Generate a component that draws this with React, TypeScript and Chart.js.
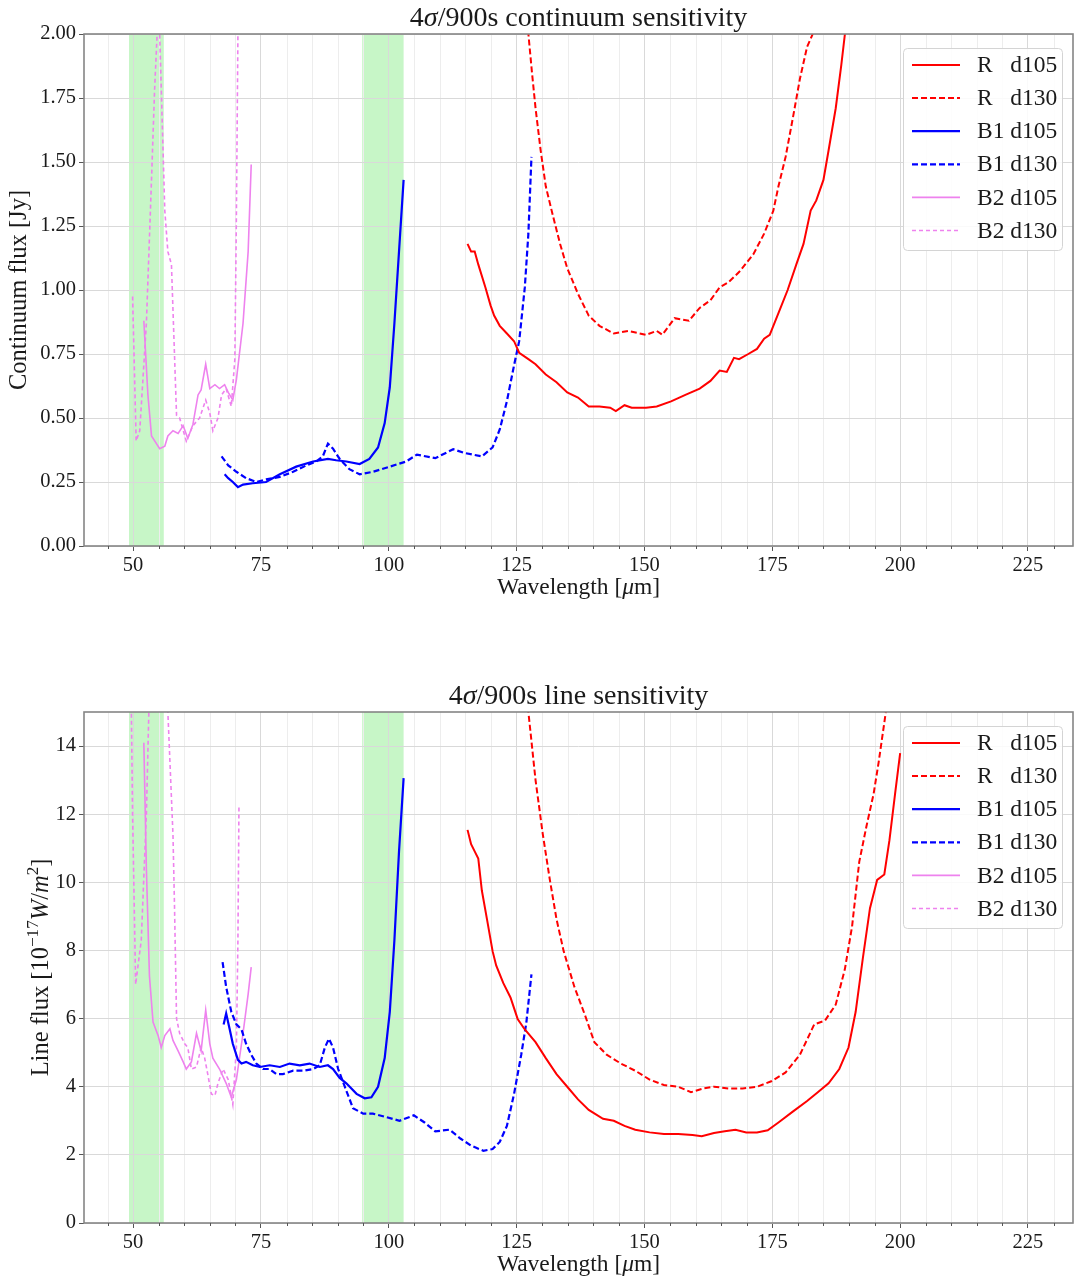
import React, { useEffect, useRef } from "react";
import { Chart, registerables } from "chart.js";
Chart.register(...registerables);

const FONT = '"Liberation Serif", "Times New Roman", serif';

// ---------- axes ----------
const xMin = 40.4;
const xMax = 233.8;
const xMajorTicks = [50, 75, 100, 125, 150, 175, 200, 225];
const xMinorTicks = [45, 55, 60, 65, 70, 80, 85, 90, 95, 105, 110, 115, 120, 130, 135, 140, 145, 155, 160, 165, 170, 180, 185, 190, 195, 205, 210, 215, 220, 230];
const contYTicks = [0, 0.25, 0.5, 0.75, 1.0, 1.25, 1.5, 1.75, 2.0];
const lineYTicks = [0, 2, 4, 6, 8, 10, 12, 14];
const bandStart = [49.2, 94.8];
const bandEnd = [56.0, 102.9];
const seriesLabels = ["R   d105", "R   d130", "B1 d105", "B1 d130", "B2 d105", "B2 d130"];

// ---------- continuum sensitivity [Jy] ----------
const contR105X = [115.4, 116.1, 116.8, 117.5, 118.9, 119.9, 120.6, 121.7, 123.1, 124.5, 125.5, 127.3, 128.7, 130.7, 132.8, 134.9, 137.0, 139.1, 141.2, 143.3, 144.4, 146.1, 147.5, 150.3, 152.4, 155.2, 158.0, 160.8, 162.9, 164.7, 166.1, 167.5, 168.5, 170.3, 172.0, 173.4, 174.5, 176.2, 178.0, 179.7, 181.1, 182.5, 183.6, 185.0, 186.0, 187.4, 188.5, 189.2, 190.5];
const contR105Y = [1.18, 1.15, 1.15, 1.10, 1.01, 0.94, 0.90, 0.86, 0.83, 0.80, 0.755, 0.73, 0.71, 0.67, 0.64, 0.60, 0.58, 0.545, 0.545, 0.54, 0.527, 0.55, 0.54, 0.54, 0.545, 0.565, 0.59, 0.615, 0.645, 0.685, 0.68, 0.735, 0.73, 0.75, 0.77, 0.81, 0.825, 0.91, 1.0, 1.10, 1.18, 1.31, 1.35, 1.43, 1.545, 1.71, 1.88, 2.0, 2.25];

const contR130X = [126.6, 127.3, 128.0, 128.7, 129.7, 130.7, 132.1, 133.5, 134.9, 137.0, 139.1, 141.2, 144.0, 146.8, 150.3, 152.4, 153.5, 155.9, 158.7, 160.8, 162.9, 164.7, 166.4, 168.5, 171.3, 173.4, 175.2, 176.2, 177.6, 179.0, 180.4, 181.8, 182.9, 183.8];
const contR130Y = [2.4, 2.0, 1.85, 1.71, 1.545, 1.405, 1.29, 1.18, 1.085, 0.985, 0.90, 0.86, 0.83, 0.84, 0.825, 0.84, 0.825, 0.89, 0.88, 0.93, 0.96, 1.01, 1.03, 1.07, 1.14, 1.22, 1.31, 1.405, 1.52, 1.67, 1.825, 1.95, 2.0, 2.2];

const contB1105X = [67.9, 68.6, 69.5, 70.5, 71.5, 73.4, 76.0, 78.7, 81.9, 85.2, 88.1, 89.7, 91.7, 94.3, 96.2, 97.9, 99.2, 100.2, 101.1, 102.0, 102.9];
const contB1105Y = [0.28, 0.265, 0.25, 0.23, 0.24, 0.245, 0.25, 0.28, 0.31, 0.33, 0.34, 0.335, 0.33, 0.32, 0.34, 0.385, 0.48, 0.62, 0.87, 1.15, 1.43];

const contB1130X = [67.3, 68.6, 70.2, 72.1, 74.1, 76.0, 78.7, 81.3, 83.9, 85.8, 87.1, 88.1, 89.1, 90.4, 92.3, 94.3, 96.9, 100.2, 103.4, 105.5, 109.1, 112.6, 114.7, 118.2, 120.3, 121.7, 123.1, 124.5, 125.5, 126.6, 127.3, 127.9];
const contB1130Y = [0.35, 0.315, 0.29, 0.265, 0.25, 0.26, 0.27, 0.29, 0.315, 0.33, 0.35, 0.40, 0.38, 0.34, 0.30, 0.28, 0.29, 0.31, 0.33, 0.357, 0.343, 0.378, 0.364, 0.35, 0.385, 0.455, 0.566, 0.706, 0.80, 1.01, 1.22, 1.52];

const contB2105X = [52.1, 52.9, 53.6, 55.2, 56.2, 56.8, 57.8, 58.8, 59.8, 60.7, 61.7, 62.7, 63.3, 64.2, 65.0, 66.0, 66.9, 67.9, 68.6, 69.5, 70.2, 71.5, 72.5, 73.1];
const contB2105Y = [0.88, 0.59, 0.43, 0.38, 0.39, 0.43, 0.45, 0.44, 0.47, 0.42, 0.475, 0.59, 0.61, 0.71, 0.615, 0.63, 0.615, 0.63, 0.60, 0.57, 0.65, 0.87, 1.15, 1.49];

const contB2130X = [49.9, 50.6, 51.3, 52.6, 53.6, 54.2, 54.7, 54.95, 55.2, 56.2, 56.8, 57.5, 58.5, 59.1, 60.4, 61.7, 63.0, 64.2, 65.0, 65.6, 66.6, 67.3, 68.2, 69.2, 69.9, 70.2, 70.5, 70.7];
const contB2130Y = [0.975, 0.41, 0.45, 0.87, 1.43, 1.78, 2.0, 2.3, 2.0, 1.31, 1.15, 1.10, 0.51, 0.50, 0.41, 0.47, 0.50, 0.57, 0.52, 0.45, 0.50, 0.59, 0.615, 0.545, 0.73, 1.29, 2.0, 2.4];

// ---------- line sensitivity [1e-17 W/m2] ----------
const lineR105X = [115.4, 116.1, 116.8, 117.5, 118.2, 119.2, 120.3, 121.0, 122.4, 123.8, 125.2, 126.6, 128.7, 130.7, 132.8, 134.9, 137.0, 139.1, 141.9, 144.0, 146.1, 148.2, 151.0, 153.8, 156.6, 159.4, 161.2, 163.6, 165.7, 167.8, 169.9, 172.0, 174.1, 176.2, 179.0, 181.8, 183.9, 186.0, 188.1, 189.9, 191.3, 192.7, 194.1, 195.5, 196.9, 197.9, 199.0, 200.0];
const lineR105Y = [11.54, 11.12, 10.91, 10.7, 9.76, 8.92, 7.98, 7.56, 7.04, 6.62, 5.99, 5.68, 5.31, 4.84, 4.37, 4.0, 3.63, 3.32, 3.06, 3.0, 2.85, 2.74, 2.66, 2.61, 2.61, 2.58, 2.55, 2.64, 2.69, 2.74, 2.66, 2.66, 2.72, 2.95, 3.27, 3.58, 3.84, 4.1, 4.52, 5.15, 6.2, 7.77, 9.24, 10.07, 10.23, 11.23, 12.59, 13.79];

const lineR130X = [126.9, 127.3, 128.7, 130.1, 131.5, 132.8, 134.2, 136.3, 138.4, 140.2, 142.6, 145.4, 148.2, 151.0, 153.8, 156.6, 159.1, 161.5, 163.6, 166.4, 169.2, 172.0, 174.8, 177.6, 180.4, 183.2, 185.3, 187.4, 189.2, 190.6, 192.0, 193.4, 194.8, 195.8, 197.2, 197.8];
const lineR130Y = [17, 15, 13.0, 11.43, 10.07, 8.92, 7.98, 6.93, 6.09, 5.31, 4.94, 4.68, 4.47, 4.21, 4.05, 4.0, 3.84, 3.95, 4.0, 3.95, 3.95, 4.0, 4.16, 4.42, 4.94, 5.83, 5.94, 6.41, 7.46, 8.71, 10.6, 11.64, 12.59, 13.53, 15, 16.5];

const lineB1105X = [67.7, 68.2, 68.9, 69.5, 70.5, 71.2, 72.1, 73.4, 74.8, 76.7, 78.7, 80.6, 82.6, 84.5, 86.5, 88.1, 89.1, 90.4, 91.7, 93.7, 95.3, 96.6, 97.9, 99.2, 100.2, 101.1, 102.0, 102.9];
const lineB1105Y = [5.83, 6.15, 5.68, 5.26, 4.79, 4.68, 4.73, 4.63, 4.58, 4.63, 4.58, 4.68, 4.63, 4.68, 4.58, 4.63, 4.52, 4.26, 4.1, 3.79, 3.66, 3.69, 4.0, 4.84, 6.2, 8.3, 10.9, 13.06];

const lineB1130X = [67.5, 68.2, 69.2, 70.2, 71.2, 72.1, 73.1, 74.1, 75.4, 76.7, 78.0, 79.3, 81.3, 83.2, 85.2, 86.5, 87.5, 88.3, 89.1, 90.1, 91.4, 93.0, 95.0, 96.9, 99.5, 102.1, 104.9, 107.0, 109.1, 111.9, 114.0, 116.1, 118.5, 120.3, 121.7, 123.1, 124.5, 125.9, 126.9, 127.9];
const lineB1130Y = [7.66, 6.93, 6.2, 5.83, 5.68, 5.26, 4.94, 4.68, 4.52, 4.52, 4.37, 4.37, 4.47, 4.47, 4.52, 4.63, 5.15, 5.41, 5.15, 4.52, 4.0, 3.37, 3.21, 3.21, 3.11, 3.0, 3.16, 2.95, 2.69, 2.74, 2.48, 2.27, 2.12, 2.17, 2.38, 2.85, 3.79, 4.94, 5.88, 7.3];

const lineB2105X = [52.1, 52.6, 53.2, 53.9, 54.9, 55.5, 56.2, 57.2, 57.8, 58.8, 59.8, 60.4, 61.4, 62.4, 63.3, 64.2, 65.0, 65.6, 66.9, 68.2, 69.2, 70.2, 71.5, 72.5, 73.1];
const lineB2105Y = [14.1, 10.4, 7.25, 5.9, 5.5, 5.15, 5.5, 5.7, 5.36, 5.05, 4.73, 4.52, 4.73, 5.57, 5.05, 6.25, 5.26, 4.84, 4.52, 4.1, 3.69, 4.21, 5.57, 6.72, 7.51];

const lineB2130X = [49.5, 49.9, 50.5, 51.0, 51.6, 52.6, 53.4, 55.0, 56.8, 57.8, 58.1, 58.5, 59.1, 60.1, 60.7, 61.4, 62.4, 63.3, 64.0, 64.6, 65.3, 66.0, 66.6, 67.6, 68.6, 69.5, 70.2, 70.5, 70.7];
const lineB2130Y = [17, 12, 7.0, 7.6, 8.3, 12, 17, 20, 15, 11.4, 9.3, 6.0, 5.57, 5.26, 5.15, 4.52, 4.58, 5.15, 4.84, 4.37, 3.79, 3.74, 4.1, 4.52, 4.21, 3.48, 5.15, 8.3, 12.2];

// ---------- helpers ----------
type Seg = { t: string; it?: boolean; sup?: boolean };

const zip = (xs: number[], ys: number[]) =>
  xs.slice(0, Math.min(xs.length, ys.length)).map((x, i) => ({ x, y: ys[i] }));

const fontStr = (size: number, italic: boolean) => `${italic ? "italic " : ""}${size}px ${FONT}`;

function drawRich(ctx: CanvasRenderingContext2D, segs: Seg[], x: number, y: number, size: number, rotate: boolean) {
  ctx.save();
  ctx.translate(x, y);
  if (rotate) ctx.rotate(-Math.PI / 2);
  const widths = segs.map((s) => {
    ctx.font = fontStr(s.sup ? size * 0.7 : size, !!s.it);
    return ctx.measureText(s.t).width;
  });
  const total = widths.reduce((a, b) => a + b, 0);
  let cx = -total / 2;
  ctx.textAlign = "left";
  ctx.textBaseline = "alphabetic";
  ctx.fillStyle = "#1a1a1a";
  const base = size * 0.33;
  segs.forEach((s, i) => {
    ctx.font = fontStr(s.sup ? size * 0.7 : size, !!s.it);
    ctx.fillText(s.t, cx, s.sup ? base - size * 0.4 : base);
    cx += widths[i];
  });
  ctx.restore();
}

const RED = "#ff0000";
const BLUE = "#0000ff";
const VIOLET = "#ee82ee";

function makeDatasets(series: { x: number[]; y: number[] }[]) {
  const styles = [
    { c: RED, w: 2, d: [] as number[] },
    { c: RED, w: 2, d: [6, 3] },
    { c: BLUE, w: 2.2, d: [] as number[] },
    { c: BLUE, w: 2.2, d: [6, 3] },
    { c: VIOLET, w: 1.6, d: [] as number[] },
    { c: VIOLET, w: 1.6, d: [4, 3] },
  ];
  return series.map((s, i) => ({
    label: seriesLabels[i],
    data: zip(s.x, s.y),
    borderColor: styles[i].c,
    backgroundColor: styles[i].c,
    borderWidth: styles[i].w,
    borderDash: styles[i].d,
    pointRadius: 0,
    tension: 0,
    fill: false,
  }));
}

type Cfg = {
  datasets: any[];
  yMax: number;
  yTicks: number[];
  yFmt: (v: number) => string;
  padTop: number;
  title: Seg[];
  ylabel: Seg[];
  ylabelX: number;
};

function buildConfig(c: Cfg): any {
  const decor = {
    id: "decor",
    beforeDraw(chart: any) {
      const { ctx, chartArea: ca } = chart;
      const x = chart.scales.x;
      ctx.save();
      ctx.fillStyle = "rgba(144,238,144,0.5)";
      bandStart.forEach((b, i) => {
        const x0 = x.getPixelForValue(b);
        const x1 = x.getPixelForValue(bandEnd[i]);
        ctx.fillRect(x0, ca.top, x1 - x0, ca.bottom - ca.top);
      });
      ctx.strokeStyle = "#ededed";
      ctx.lineWidth = 1;
      xMinorTicks.forEach((v) => {
        const px = Math.round(x.getPixelForValue(v)) + 0.5;
        ctx.beginPath();
        ctx.moveTo(px, ca.top);
        ctx.lineTo(px, ca.bottom);
        ctx.stroke();
      });
      ctx.restore();
    },
    afterDatasetsDraw(chart: any) {
      const { ctx, chartArea: ca } = chart;
      ctx.save();
      ctx.strokeStyle = "#858585";
      ctx.lineWidth = 1.6;
      ctx.strokeRect(ca.left, ca.top, ca.right - ca.left, ca.bottom - ca.top);
      ctx.restore();
    },
    afterDraw(chart: any) {
      const { ctx, chartArea: ca } = chart;
      const x = chart.scales.x;
      ctx.save();
      // minor ticks
      ctx.strokeStyle = "#555";
      ctx.lineWidth = 1;
      xMinorTicks.forEach((v) => {
        const px = Math.round(x.getPixelForValue(v)) + 0.5;
        ctx.beginPath();
        ctx.moveTo(px, ca.bottom);
        ctx.lineTo(px, ca.bottom + 3);
        ctx.stroke();
      });
      const cxm = (ca.left + ca.right) / 2;
      // title
      drawRich(ctx, c.title, cxm, ca.top - 17, 28, false);
      // x label
      drawRich(ctx, [{ t: "Wavelength [" }, { t: "μ", it: true }, { t: "m]" }], cxm, ca.bottom + 40, 23.5, false);
      // y label
      drawRich(ctx, c.ylabel, c.ylabelX, (ca.top + ca.bottom) / 2, 24.5, true);
      // legend
      const lx = ca.right - 170;
      const ly = ca.top + 14;
      const lw = 159;
      const lh = 202;
      ctx.fillStyle = "rgba(255,255,255,0.85)";
      ctx.strokeStyle = "#d4d4d4";
      ctx.lineWidth = 1;
      ctx.beginPath();
      (ctx as any).roundRect(lx + 0.5, ly + 0.5, lw, lh, 4);
      ctx.fill();
      ctx.stroke();
      chart.data.datasets.forEach((ds: any, i: number) => {
        const cy = ly + 17 + 33.1 * i;
        ctx.strokeStyle = ds.borderColor;
        ctx.lineWidth = ds.borderWidth;
        ctx.setLineDash(ds.borderDash || []);
        ctx.beginPath();
        ctx.moveTo(lx + 9, cy);
        ctx.lineTo(lx + 57, cy);
        ctx.stroke();
        ctx.setLineDash([]);
        ctx.fillStyle = "#1a1a1a";
        ctx.font = fontStr(23.5, false);
        ctx.textAlign = "left";
        ctx.textBaseline = "middle";
        ctx.fillText(ds.label, lx + 74, cy + 1);
      });
      ctx.restore();
    },
  };

  return {
    type: "line",
    data: { datasets: c.datasets },
    options: {
      animation: false,
      responsive: false,
      maintainAspectRatio: false,
      devicePixelRatio: 1,
      layout: { padding: { top: c.padTop, right: 2, left: 0, bottom: 0 } },
      plugins: { legend: { display: false }, title: { display: false }, tooltip: { enabled: false } },
      elements: { point: { radius: 0 }, line: { tension: 0 } },
      scales: {
        x: {
          type: "linear",
          min: xMin,
          max: xMax,
          afterBuildTicks: (a: any) => {
            a.ticks = xMajorTicks.map((v) => ({ value: v }));
          },
          afterFit: (a: any) => {
            a.height = 56;
          },
          grid: { color: "#d9d9d9", lineWidth: 1, tickLength: 5, tickColor: "#555", drawTicks: true },
          border: { display: false },
          ticks: {
            autoSkip: false,
            maxRotation: 0,
            padding: 2,
            color: "#1a1a1a",
            font: { family: FONT, size: 20.5 },
            callback: (v: any) => String(v),
          },
        },
        y: {
          type: "linear",
          min: 0,
          max: c.yMax,
          afterBuildTicks: (a: any) => {
            a.ticks = c.yTicks.map((v) => ({ value: v }));
          },
          afterFit: (a: any) => {
            a.width = 84;
          },
          grid: { color: "#d9d9d9", lineWidth: 1, tickLength: 5, tickColor: "#555", drawTicks: true },
          border: { display: false },
          ticks: {
            autoSkip: false,
            padding: 3,
            color: "#1a1a1a",
            font: { family: FONT, size: 20.5 },
            callback: (v: any) => c.yFmt(Number(v)),
          },
        },
      },
    },
    plugins: [decor],
  };
}

function ChartCanvas({ make, width, height }: { make: () => any; width: number; height: number }) {
  const ref = useRef<HTMLCanvasElement | null>(null);
  useEffect(() => {
    const chart = new Chart(ref.current as HTMLCanvasElement, make());
    return () => chart.destroy();
  }, []);
  return <canvas ref={ref} width={width} height={height} style={{ display: "block", width, height }} />;
}

const makeTop = () =>
  buildConfig({
    datasets: makeDatasets([
      { x: contR105X, y: contR105Y },
      { x: contR130X, y: contR130Y },
      { x: contB1105X, y: contB1105Y },
      { x: contB1130X, y: contB1130Y },
      { x: contB2105X, y: contB2105Y },
      { x: contB2130X, y: contB2130Y },
    ]),
    yMax: 2.0,
    yTicks: contYTicks,
    yFmt: (v) => v.toFixed(2),
    padTop: 34,
    title: [{ t: "4" }, { t: "σ", it: true }, { t: "/900s continuum sensitivity" }],
    ylabel: [{ t: "Continuum flux [Jy]" }],
    ylabelX: 18,
  });

const makeBottom = () =>
  buildConfig({
    datasets: makeDatasets([
      { x: lineR105X, y: lineR105Y },
      { x: lineR130X, y: lineR130Y },
      { x: lineB1105X, y: lineB1105Y },
      { x: lineB1130X, y: lineB1130Y },
      { x: lineB2105X, y: lineB2105Y },
      { x: lineB2130X, y: lineB2130Y },
    ]),
    yMax: 15,
    yTicks: lineYTicks,
    yFmt: (v) => String(Math.round(v)),
    padTop: 72,
    title: [{ t: "4" }, { t: "σ", it: true }, { t: "/900s line sensitivity" }],
    ylabel: [
      { t: "Line flux [10" },
      { t: "−17", sup: true },
      { t: "W", it: true },
      { t: "/" },
      { t: "m", it: true },
      { t: "2", sup: true },
      { t: "]" },
    ],
    ylabelX: 40,
  });

export default function App() {
  return (
    <div style={{ position: "absolute", left: 0, top: 0, width: 1075, height: 1279, background: "#ffffff" }}>
      <div style={{ position: "absolute", left: 0, top: 0 }}>
        <ChartCanvas make={makeTop} width={1075} height={602} />
      </div>
      <div style={{ position: "absolute", left: 0, top: 640 }}>
        <ChartCanvas make={makeBottom} width={1075} height={639} />
      </div>
    </div>
  );
}
